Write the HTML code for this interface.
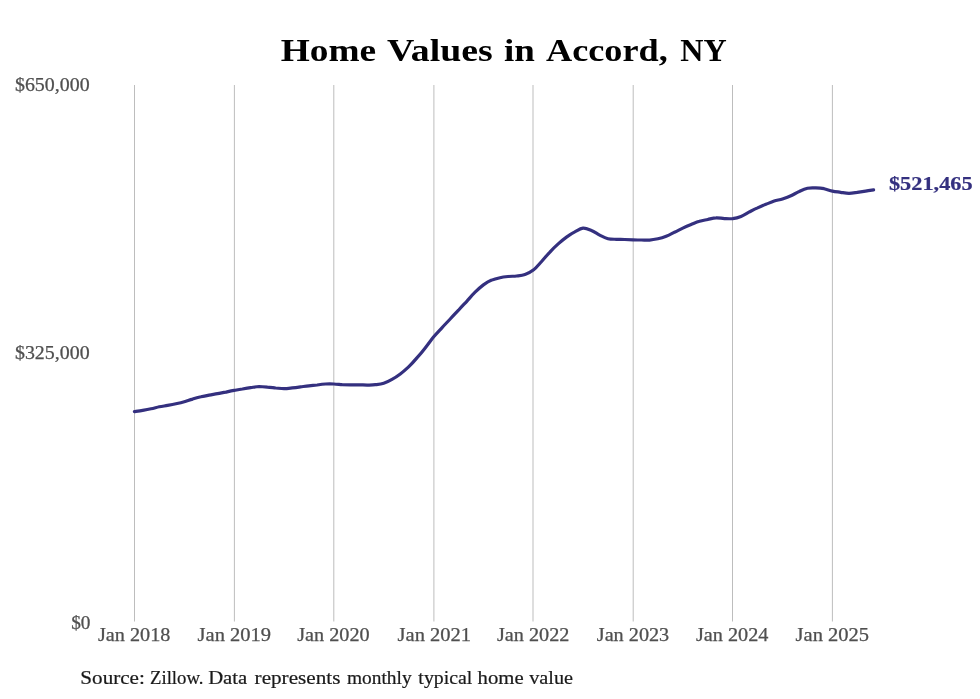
<!DOCTYPE html>
<html><head><meta charset="utf-8"><title>Home Values in Accord, NY</title><style>
html,body{margin:0;padding:0;background:#fff;width:980px;height:699px;overflow:hidden}
svg{display:block;will-change:transform}
text{font-family:"Liberation Serif",serif}
</style></head><body>
<svg width="980" height="699" viewBox="0 0 980 699">
<rect width="980" height="699" fill="#fff"/>
<g stroke="#bdbdbd" stroke-width="1"><line x1="134.5" y1="85" x2="134.5" y2="621.5"/><line x1="234.4" y1="85" x2="234.4" y2="621.5"/><line x1="333.8" y1="85" x2="333.8" y2="621.5"/><line x1="433.9" y1="85" x2="433.9" y2="621.5"/><line x1="533.0" y1="85" x2="533.0" y2="621.5"/><line x1="633.2" y1="85" x2="633.2" y2="621.5"/><line x1="732.5" y1="85" x2="732.5" y2="621.5"/><line x1="832.4" y1="85" x2="832.4" y2="621.5"/></g>
<path d="M134.4,411.6 C135.8,411.4 139.9,410.9 142.7,410.4 C145.5,409.9 148.2,409.4 151.0,408.8 C153.8,408.2 156.6,407.4 159.3,406.8 C162.1,406.2 164.9,405.9 167.6,405.4 C170.4,404.9 173.2,404.4 175.9,403.8 C178.7,403.2 181.5,402.6 184.3,401.8 C187.0,401.0 189.8,399.9 192.6,399.1 C195.3,398.2 198.1,397.4 200.9,396.8 C203.7,396.1 206.4,395.6 209.2,395.1 C212.0,394.6 214.7,394.2 217.5,393.7 C220.3,393.2 223.0,392.6 225.8,392.1 C228.6,391.5 231.3,390.9 234.1,390.4 C236.9,389.9 239.6,389.4 242.4,389.0 C245.2,388.5 248.0,388.0 250.7,387.6 C253.5,387.2 256.3,386.6 259.0,386.5 C261.8,386.5 264.6,386.8 267.4,387.1 C270.1,387.3 272.9,387.7 275.7,388.0 C278.4,388.2 281.2,388.6 284.0,388.6 C286.7,388.6 289.5,388.2 292.3,387.9 C295.0,387.6 297.8,387.2 300.6,386.8 C303.4,386.5 306.1,386.3 308.9,385.9 C311.7,385.6 314.4,385.3 317.2,385.0 C320.0,384.6 322.8,384.2 325.5,384.0 C328.3,383.9 331.1,383.9 333.8,384.0 C336.6,384.1 339.4,384.5 342.1,384.7 C344.9,384.8 347.7,384.8 350.4,384.8 C353.2,384.8 356.0,384.8 358.8,384.8 C361.5,384.8 364.3,385.1 367.1,385.1 C369.8,385.0 372.6,385.0 375.4,384.7 C378.1,384.4 380.9,384.2 383.7,383.3 C386.5,382.4 389.2,381.0 392.0,379.4 C394.8,377.9 397.5,376.1 400.3,374.0 C403.1,371.9 405.8,369.5 408.6,366.9 C411.4,364.2 414.2,361.1 416.9,357.9 C419.7,354.8 422.5,351.4 425.2,347.9 C428.0,344.4 430.8,340.4 433.5,337.0 C436.3,333.6 439.1,330.8 441.9,327.8 C444.6,324.8 447.4,322.0 450.2,319.0 C452.9,316.1 455.7,313.1 458.5,310.2 C461.2,307.2 464.0,304.3 466.8,301.3 C469.5,298.3 472.3,294.9 475.1,292.2 C477.9,289.5 480.6,287.0 483.4,284.9 C486.2,282.9 488.9,281.2 491.7,280.1 C494.5,278.9 497.2,278.3 500.0,277.7 C502.8,277.1 505.6,276.8 508.3,276.5 C511.1,276.2 513.9,276.3 516.6,276.0 C519.4,275.7 522.2,275.6 525.0,274.6 C527.7,273.6 530.5,272.3 533.3,270.1 C536.0,267.9 538.8,264.5 541.6,261.5 C544.3,258.5 547.1,255.0 549.9,252.1 C552.6,249.1 555.4,246.4 558.2,243.9 C561.0,241.4 563.7,239.1 566.5,237.1 C569.3,235.1 572.0,233.3 574.8,231.9 C577.6,230.4 580.3,228.5 583.1,228.2 C585.9,228.0 588.6,229.3 591.4,230.4 C594.2,231.5 597.0,233.7 599.7,235.1 C602.5,236.5 605.3,238.0 608.0,238.7 C610.8,239.4 613.6,239.2 616.4,239.3 C619.1,239.4 621.9,239.4 624.7,239.5 C627.4,239.6 630.2,239.7 633.0,239.8 C635.7,239.9 638.5,240.0 641.3,240.0 C644.0,240.0 646.8,240.3 649.6,240.1 C652.4,239.9 655.1,239.4 657.9,238.8 C660.7,238.2 663.4,237.4 666.2,236.3 C669.0,235.2 671.8,233.6 674.5,232.2 C677.3,230.9 680.1,229.4 682.8,228.1 C685.6,226.8 688.4,225.6 691.1,224.5 C693.9,223.4 696.7,222.1 699.5,221.3 C702.2,220.4 705.0,220.1 707.8,219.5 C710.5,218.9 713.3,217.9 716.1,217.8 C718.8,217.6 721.6,218.5 724.4,218.6 C727.1,218.7 729.9,218.9 732.7,218.6 C735.5,218.2 738.2,217.5 741.0,216.4 C743.8,215.3 746.5,213.4 749.3,211.9 C752.1,210.5 754.8,209.1 757.6,207.9 C760.4,206.6 763.1,205.4 765.9,204.3 C768.7,203.2 771.5,202.0 774.2,201.1 C777.0,200.2 779.8,199.8 782.5,198.9 C785.3,198.0 788.1,197.1 790.9,195.8 C793.6,194.6 796.4,192.7 799.2,191.5 C801.9,190.2 804.7,188.8 807.5,188.2 C810.2,187.6 813.0,187.8 815.8,187.9 C818.5,188.0 821.3,188.2 824.1,188.7 C826.9,189.3 829.6,190.5 832.4,191.1 C835.2,191.7 837.9,191.9 840.7,192.3 C843.5,192.7 846.2,193.3 849.0,193.3 C851.8,193.3 854.6,192.7 857.3,192.3 C860.1,191.9 862.9,191.5 865.6,191.1 C868.4,190.7 872.3,190.1 873.6,189.9" fill="none" stroke="#34307f" stroke-width="3.2" stroke-linecap="round" stroke-linejoin="round"/>
<text x="280.79" y="60.5" font-size="32" font-weight="bold" fill="#000" textLength="95.42" lengthAdjust="spacingAndGlyphs">Home</text>
<text x="387.00" y="60.5" font-size="32" font-weight="bold" fill="#000" textLength="105.81" lengthAdjust="spacingAndGlyphs">Values</text>
<text x="503.99" y="60.5" font-size="32" font-weight="bold" fill="#000" textLength="30.84" lengthAdjust="spacingAndGlyphs">in</text>
<text x="545.99" y="60.5" font-size="32" font-weight="bold" fill="#000" textLength="121.82" lengthAdjust="spacingAndGlyphs">Accord,</text>
<text x="680.39" y="60.5" font-size="32" font-weight="bold" fill="#000" textLength="46.42" lengthAdjust="spacingAndGlyphs">NY</text>
<text x="80.33" y="683.6" font-size="18" fill="#1a1a1a" stroke="#1a1a1a" stroke-width="0.2" textLength="64.53" lengthAdjust="spacingAndGlyphs">Source:</text>
<text x="149.98" y="683.6" font-size="18" fill="#1a1a1a" stroke="#1a1a1a" stroke-width="0.2" textLength="53.46" lengthAdjust="spacingAndGlyphs">Zillow.</text>
<text x="208.16" y="683.6" font-size="18" fill="#1a1a1a" stroke="#1a1a1a" stroke-width="0.2" textLength="39.07" lengthAdjust="spacingAndGlyphs">Data</text>
<text x="254.59" y="683.6" font-size="18" fill="#1a1a1a" stroke="#1a1a1a" stroke-width="0.2" textLength="85.81" lengthAdjust="spacingAndGlyphs">represents</text>
<text x="347.00" y="683.6" font-size="18" fill="#1a1a1a" stroke="#1a1a1a" stroke-width="0.2" textLength="64.61" lengthAdjust="spacingAndGlyphs">monthly</text>
<text x="418.39" y="683.6" font-size="18" fill="#1a1a1a" stroke="#1a1a1a" stroke-width="0.2" textLength="54.01" lengthAdjust="spacingAndGlyphs">typical</text>
<text x="477.57" y="683.6" font-size="18" fill="#1a1a1a" stroke="#1a1a1a" stroke-width="0.2" textLength="46.02" lengthAdjust="spacingAndGlyphs">home</text>
<text x="529.21" y="683.6" font-size="18" fill="#1a1a1a" stroke="#1a1a1a" stroke-width="0.2" textLength="43.81" lengthAdjust="spacingAndGlyphs">value</text>
<text x="888.97" y="189.5" font-size="18" font-weight="bold" fill="#34307f" stroke="#34307f" stroke-width="0.2" textLength="83.64" lengthAdjust="spacingAndGlyphs">$521,465</text>
<text x="14.98" y="91.2" font-size="18" fill="#4f4f4f" stroke="#4f4f4f" stroke-width="0.25" textLength="74.63" lengthAdjust="spacingAndGlyphs">$650,000</text>
<text x="14.98" y="359.2" font-size="18" fill="#4f4f4f" stroke="#4f4f4f" stroke-width="0.25" textLength="74.63" lengthAdjust="spacingAndGlyphs">$325,000</text>
<text x="71.17" y="628.8" font-size="18" fill="#4f4f4f" stroke="#4f4f4f" stroke-width="0.25" textLength="19.30" lengthAdjust="spacingAndGlyphs">$0</text>
<text x="97.98" y="641" font-size="18" fill="#4f4f4f" stroke="#4f4f4f" stroke-width="0.25" textLength="72.44" lengthAdjust="spacingAndGlyphs">Jan 2018</text>
<text x="197.58" y="641" font-size="18" fill="#4f4f4f" stroke="#4f4f4f" stroke-width="0.25" textLength="73.45" lengthAdjust="spacingAndGlyphs">Jan 2019</text>
<text x="297.20" y="641" font-size="18" fill="#4f4f4f" stroke="#4f4f4f" stroke-width="0.25" textLength="72.41" lengthAdjust="spacingAndGlyphs">Jan 2020</text>
<text x="397.60" y="641" font-size="18" fill="#4f4f4f" stroke="#4f4f4f" stroke-width="0.25" textLength="73.45" lengthAdjust="spacingAndGlyphs">Jan 2021</text>
<text x="497.00" y="641" font-size="18" fill="#4f4f4f" stroke="#4f4f4f" stroke-width="0.25" textLength="72.41" lengthAdjust="spacingAndGlyphs">Jan 2022</text>
<text x="596.79" y="641" font-size="18" fill="#4f4f4f" stroke="#4f4f4f" stroke-width="0.25" textLength="72.43" lengthAdjust="spacingAndGlyphs">Jan 2023</text>
<text x="695.99" y="641" font-size="18" fill="#4f4f4f" stroke="#4f4f4f" stroke-width="0.25" textLength="72.41" lengthAdjust="spacingAndGlyphs">Jan 2024</text>
<text x="795.58" y="641" font-size="18" fill="#4f4f4f" stroke="#4f4f4f" stroke-width="0.25" textLength="73.45" lengthAdjust="spacingAndGlyphs">Jan 2025</text>
</svg>
</body></html>
